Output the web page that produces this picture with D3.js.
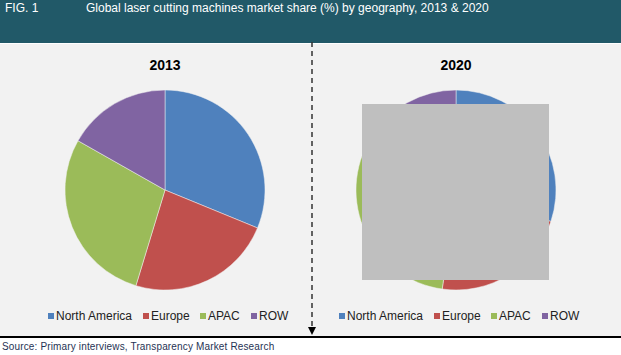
<!DOCTYPE html>
<html>
<head>
<meta charset="utf-8">
<script src="https://cdn.jsdelivr.net/npm/d3@7"></script>
<style>
html,body{margin:0;padding:0;background:#fff;}
svg{display:block;font-family:"Liberation Sans",Arial,sans-serif;}
</style>
</head>
<body>
<svg id="chart" width="621" height="355"></svg>
<script>
const categories = ["North America", "Europe", "APAC", "ROW"];
const colors = ["#4F81BD", "#C0504D", "#9BBB59", "#8064A2"];
const years = ["2013", "2020"];
const values2013 = [31.2, 23.5, 28.5, 16.8];
const values2020 = [30.1, 22.1, 31.5, 16.3];
const figLabel = "FIG. 1";
const title = "Global laser cutting machines market share (%) by geography, 2013 & 2020";
const source = "Source:  Primary interviews, Transparency Market Research";

const svg = d3.select("#chart");
const W = 621;

// header
svg.append("rect").attr("x",0).attr("y",0).attr("width",W).attr("height",43).attr("fill","#215968");
svg.append("text").attr("x",5).attr("y",12).attr("fill","#fff").attr("font-size",12).text(figLabel);
svg.append("text").attr("x",86).attr("y",12).attr("fill","#fff").attr("font-size",12).text(title);

// panel
svg.append("rect").attr("x",0).attr("y",44).attr("width",W).attr("height",292).attr("fill","#F2F2F2");
svg.append("rect").attr("x",0).attr("y",336).attr("width",W).attr("height",2).attr("fill","#000");

// source
svg.append("text").attr("x",2).attr("y",350).attr("fill","#1F3354").attr("font-size",10).attr("letter-spacing",0.15).text(source);

// divider
svg.append("line").attr("x1",312).attr("x2",312).attr("y1",42).attr("y2",328)
  .attr("stroke","#333").attr("stroke-width",1.5).attr("stroke-dasharray","5,4");
svg.append("path").attr("d","M308,327 L316,327 L312,335 Z").attr("fill","#000");

const pie = d3.pie().sort(null).value(d => d);
const arc = d3.arc().innerRadius(0).outerRadius(100);
const xCenter = d3.scalePoint().domain(years).range([165, 456]);
const dataByYear = {"2013": values2013, "2020": values2020};

years.forEach(yr => {
  const cx = xCenter(yr);
  const g = svg.append("g").attr("transform", `translate(${cx},190)`);
  g.selectAll("path").data(pie(dataByYear[yr])).join("path")
    .attr("d", arc).attr("fill", (d,i) => colors[i])
    .attr("stroke", "#F2F2F2").attr("stroke-width", 0.5);
  svg.append("text").attr("x", cx).attr("y", 69.5).attr("text-anchor","middle")
    .attr("font-size",14).attr("font-weight","bold").attr("fill","#000").text(yr);

  // legend
  const legOff = [0, 95, 152, 203];
  const lg = svg.append("g").attr("transform", `translate(${cx-117},0)`);
  categories.forEach((c,i) => {
    lg.append("rect").attr("x", legOff[i]).attr("y",313).attr("width",6).attr("height",6).attr("fill",colors[i]);
    lg.append("text").attr("x", legOff[i]+8).attr("y",320).attr("font-size",12).attr("fill","#222").text(c);
  });
});

// grey box over 2020 pie
svg.append("rect").attr("x",362).attr("y",104).attr("width",187).attr("height",176).attr("fill","#BFBFBF");
</script>
</body>
</html>
